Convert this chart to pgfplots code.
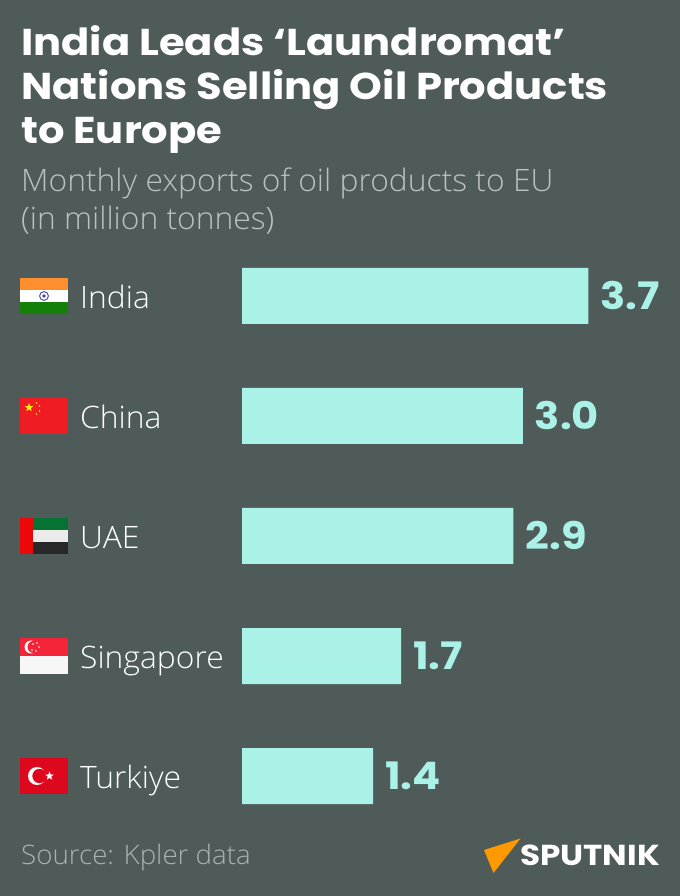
\documentclass[border=0pt]{standalone}
\usepackage{fontspec}
\usepackage{pgfplots}
\pgfplotsset{compat=1.18}
\usepackage{pgfplotstable}
\usetikzlibrary{shapes.geometric}
\setmainfont{Open Sans Light}
\newfontfamily\titlefont[FakeStretch=1.115]{Poppins Bold}
\newfontfamily\valuefont[FakeStretch=1.1]{Poppins Bold}
\newfontfamily\labelfont[FakeStretch=1.03]{Open Sans Light}
\newfontfamily\logofont[FakeStretch=1.13]{Poppins Bold}
\definecolor{bg}{RGB}{79,91,88}
\definecolor{bar}{RGB}{170,241,231}
\definecolor{sub}{RGB}{186,193,191}
\definecolor{inor}{RGB}{255,143,46}
\definecolor{ingr}{RGB}{21,128,8}
\definecolor{inbl}{RGB}{70,70,170}
\definecolor{cnre}{RGB}{240,28,36}
\definecolor{aegr}{RGB}{5,115,50}
\definecolor{aere}{RGB}{236,8,8}
\definecolor{aewh}{RGB}{235,235,235}
\definecolor{aebl}{RGB}{40,40,40}
\definecolor{sgre}{RGB}{243,35,56}
\definecolor{trre}{RGB}{222,8,30}
\definecolor{spor}{RGB}{255,153,0}
\pgfplotstableread{
pos value
0 3.7
1 3.0
2 2.9
3 1.7
4 1.4
}\datatable
\begin{document}
\begin{tikzpicture}[x=1bp,y=1bp,inner sep=0pt]
\useasboundingbox (0,0) rectangle (680,896);
\fill[bg] (0,0) rectangle (680,896);
% title
\node[anchor=base west,font=\titlefont\fontsize{37.5}{44}\selectfont,text=white] at (21,896-56) {India Leads ‘Laundromat’};
\node[anchor=base west,font=\titlefont\fontsize{37.5}{44}\selectfont,text=white] at (21,896-100) {Nations Selling Oil Products};
\node[anchor=base west,font=\titlefont\fontsize{37.5}{44}\selectfont,text=white] at (21,896-144) {to Europe};
\node[anchor=base west,font=\labelfont\fontsize{31}{38}\selectfont,text=sub] at (21,896-192) {Monthly exports of oil products to EU};
\node[anchor=base west,font=\labelfont\fontsize{31}{38}\selectfont,text=sub] at (21,896-230) {(in million tonnes)};
% chart
\begin{axis}[
  at={(242bp,92bp)},anchor=south west,
  scale only axis,width=438bp,height=536bp,
  xmin=0,xmax=4.68,
  ymin=-0.23333,ymax=4.23333,y dir=reverse,
  xbar,bar width=56bp,
  axis line style={draw=none},
  major tick length=0pt,
  xtick=\empty,
  ytick={0,1,2,3,4},
  yticklabels={India,China,UAE,Singapore,Turkiye},
  yticklabel style={anchor=west,xshift=-162bp,yshift=-5bp,font=\labelfont\fontsize{31}{32}\selectfont,text=white,text height=21bp,text depth=6bp,inner sep=0pt},
  nodes near coords,
  point meta=x,
  /pgf/number format/assume math mode=true,
  /pgf/number format/fixed,
  /pgf/number format/fixed zerofill,
  /pgf/number format/precision=1,
  every node near coord/.append style={anchor=west,inner sep=0pt,xshift=12bp,font=\valuefont\fontsize{38}{40}\selectfont,text=bar},
]
\addplot[fill=bar,draw=none] table[x=value,y=pos] {\datatable};
\end{axis}
% flags
\fill[inor] (20,896-278) rectangle (68,896-290);
\fill[white] (20,896-302) rectangle (68,896-290);
\fill[ingr] (20,896-314) rectangle (68,896-302);
\draw[inbl,line width=0.9pt] (44,896-296) circle (4.4);
\fill[inbl] (44,896-296) circle (1.8);
\fill[cnre] (20,896-434) rectangle (68,896-398);
\node[star,star points=5,star point ratio=2.4,fill=yellow,minimum size=9bp] at (29,896-407.5) {};
\foreach \a/\b in {36.5/403,39.5/406,39.5/411,36.5/414}{\fill[yellow] (\a,896-\b) circle (0.9);}
\fill[aere] (20,896-518) rectangle (33,896-554);
\fill[aegr] (33,896-518) rectangle (68,896-530);
\fill[aewh] (33,896-530) rectangle (68,896-542);
\fill[aebl] (33,896-542) rectangle (68,896-554);
\fill[sgre] (20,896-638) rectangle (68,896-656);
\fill[white!97!black] (20,896-656) rectangle (68,896-674);
\fill[white] (31,896-647) circle (6.5);
\fill[sgre] (33.5,896-647) circle (6);
\foreach \a/\b in {33/644,37/643,39/647,36/651,32/650}{\fill[white] (\a,896-\b) circle (0.8);}
\fill[trre] (20,896-758) rectangle (68,896-794);
\fill[white] (37,896-776) circle (9);
\fill[trre] (39.5,896-776) circle (7.2);
\node[star,star points=5,star point ratio=2.4,fill=white,minimum size=9bp] at (49.5,896-776) {};
% footer
\node[anchor=base west,font=\labelfont\fontsize{27}{30}\selectfont,text=sub!85!bg] at (21,896-865) {Source: Kpler data};
\fill[spor] (484,896-850) -- (520.5,896-838.5) -- (493.5,896-873) -- cycle;
\node[anchor=base west,font=\logofont\fontsize{29}{30}\selectfont,text=white] at (520,896-866) {SPUTNIK};
\end{tikzpicture}
\end{document}
